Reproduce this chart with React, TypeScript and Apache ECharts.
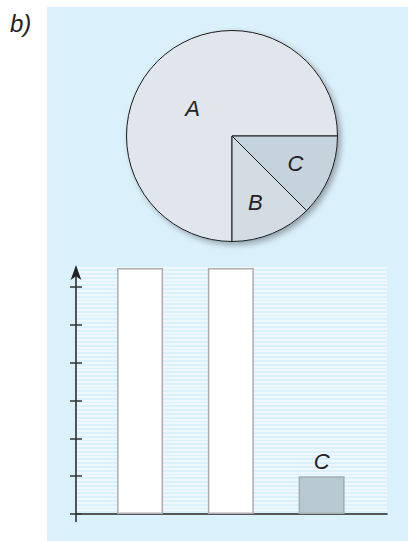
import React, { useEffect, useRef } from 'react';
import * as echarts from 'echarts';

const pieNames = ['A', 'B', 'C'];
const pieValues = [75, 12.5, 12.5];
const barCategories = ['A', 'B', 'C'];
const barValues = [6.5, 6.5, 1];
const barLabels = ['', '', 'C'];
const yTickMax = 6;

export default function App() {
  const ref = useRef<HTMLDivElement>(null);
  useEffect(() => {
    const chart = echarts.init(ref.current!, null, { renderer: 'svg' });
    const font = "'Liberation Sans', Arial, sans-serif";
    const pieColors = ['#e0e6eb', '#d3dbe3', '#c5d3dc'];
    const barColors = ['#ffffff', '#ffffff', '#b9c9d1'];
    const barBorders = ['#adadad', '#adadad', '#a3adb2'];
    const pieLabelShift = [[0, 12], [2, 15], [12, 6]];
    const stripeColors = Array.from({ length: 72 }, (_, i) => (i < 2 ? 'rgba(0,0,0,0)' : '#f4fbff'));
    const pieTotal = pieValues.reduce((a, b) => a + b, 0);
    const option = {
      animation: false,
      graphic: [
        { type: 'text', left: 10, top: 11, style: { text: 'b)', font: 'italic 24px ' + font, fill: '#222' } },
      ],
      grid: [
        { left: 76, right: 21, top: 268, bottom: 19.5 },
        { left: 76, right: 21, top: 287, bottom: 27 },
        { left: 94.7, right: 41, top: 268, bottom: 27 },
      ],
      xAxis: [
        {
          gridIndex: 0, type: 'value', min: 0, max: 1,
          axisLine: { show: true, onZero: true, lineStyle: { color: '#222', width: 1.5 } },
          axisTick: { show: false }, axisLabel: { show: false }, splitLine: { show: false },
        },
        { gridIndex: 1, type: 'value', min: 0, max: 1, show: false },
        { gridIndex: 2, type: 'category', data: barCategories, show: false },
      ],
      yAxis: [
        {
          gridIndex: 0, type: 'value', min: -0.2, max: 6.5, interval: 0.1,
          axisLine: {
            show: true, symbol: ['none', 'arrow'], symbolSize: [8, 15], symbolOffset: [0, 3],
            lineStyle: { color: '#222', width: 1.5 },
          },
          axisTick: { show: false }, axisLabel: { show: false },
          splitLine: { show: true, lineStyle: { color: stripeColors, width: 1.5 } },
        },
        {
          gridIndex: 1, type: 'value', min: 0, max: yTickMax, interval: 1, offset: -6,
          axisLine: { show: false },
          axisTick: { show: true, length: 12, lineStyle: { color: '#333', width: 1.5 } },
          axisLabel: { show: false }, splitLine: { show: false },
        },
        { gridIndex: 2, type: 'value', min: 0, max: 6.5, show: false },
      ],
      series: [
        {
          type: 'pie', silent: true, z: 1, center: [232, 136], radius: 105.5,
          data: [{ value: pieTotal, name: '' }],
          label: { show: false }, labelLine: { show: false },
          itemStyle: {
            color: pieColors[0], shadowBlur: 6, shadowOffsetX: 3, shadowOffsetY: 3,
            shadowColor: 'rgba(0,0,0,0.35)',
          },
        },
        {
          type: 'pie', silent: true, z: 2, center: [232, 136], radius: 105.5,
          startAngle: 0, clockwise: false, avoidLabelOverlap: false,
          data: pieNames.map((n, i) => ({ name: n, value: pieValues[i], itemStyle: { color: pieColors[i] } })),
          itemStyle: { borderColor: '#1a1a1a', borderWidth: 1 },
          label: {
            show: true, position: 'inside', formatter: '{b}', fontStyle: 'italic',
            fontSize: 22, color: '#222', fontFamily: font,
          },
          labelLine: { show: false },
          labelLayout: (p: any) => ({ dx: pieLabelShift[p.dataIndex][0], dy: pieLabelShift[p.dataIndex][1] }),
        },
        {
          type: 'bar', xAxisIndex: 2, yAxisIndex: 2, barWidth: 46, silent: true,
          data: barValues.map((v, i) => ({
            value: v,
            itemStyle: { color: barColors[i], borderColor: barBorders[i], borderWidth: 1.5 },
          })),
          label: {
            show: true, position: 'top', distance: 4,
            formatter: (p: any) => barLabels[p.dataIndex],
            fontStyle: 'italic', fontSize: 22, color: '#222', fontFamily: font,
          },
        },
      ],
    };
    chart.setOption(option as any);
    return () => chart.dispose();
  }, []);
  return (
    <div style={{ position: 'absolute', left: 0, top: 0, width: 408, height: 541, background: '#ffffff' }}>
      <div style={{ position: 'absolute', left: 47, top: 7, width: 361, height: 534, background: '#daf0fb' }} />
      <div ref={ref} style={{ position: 'absolute', left: 0, top: 0, width: 408, height: 541 }} />
    </div>
  );
}
